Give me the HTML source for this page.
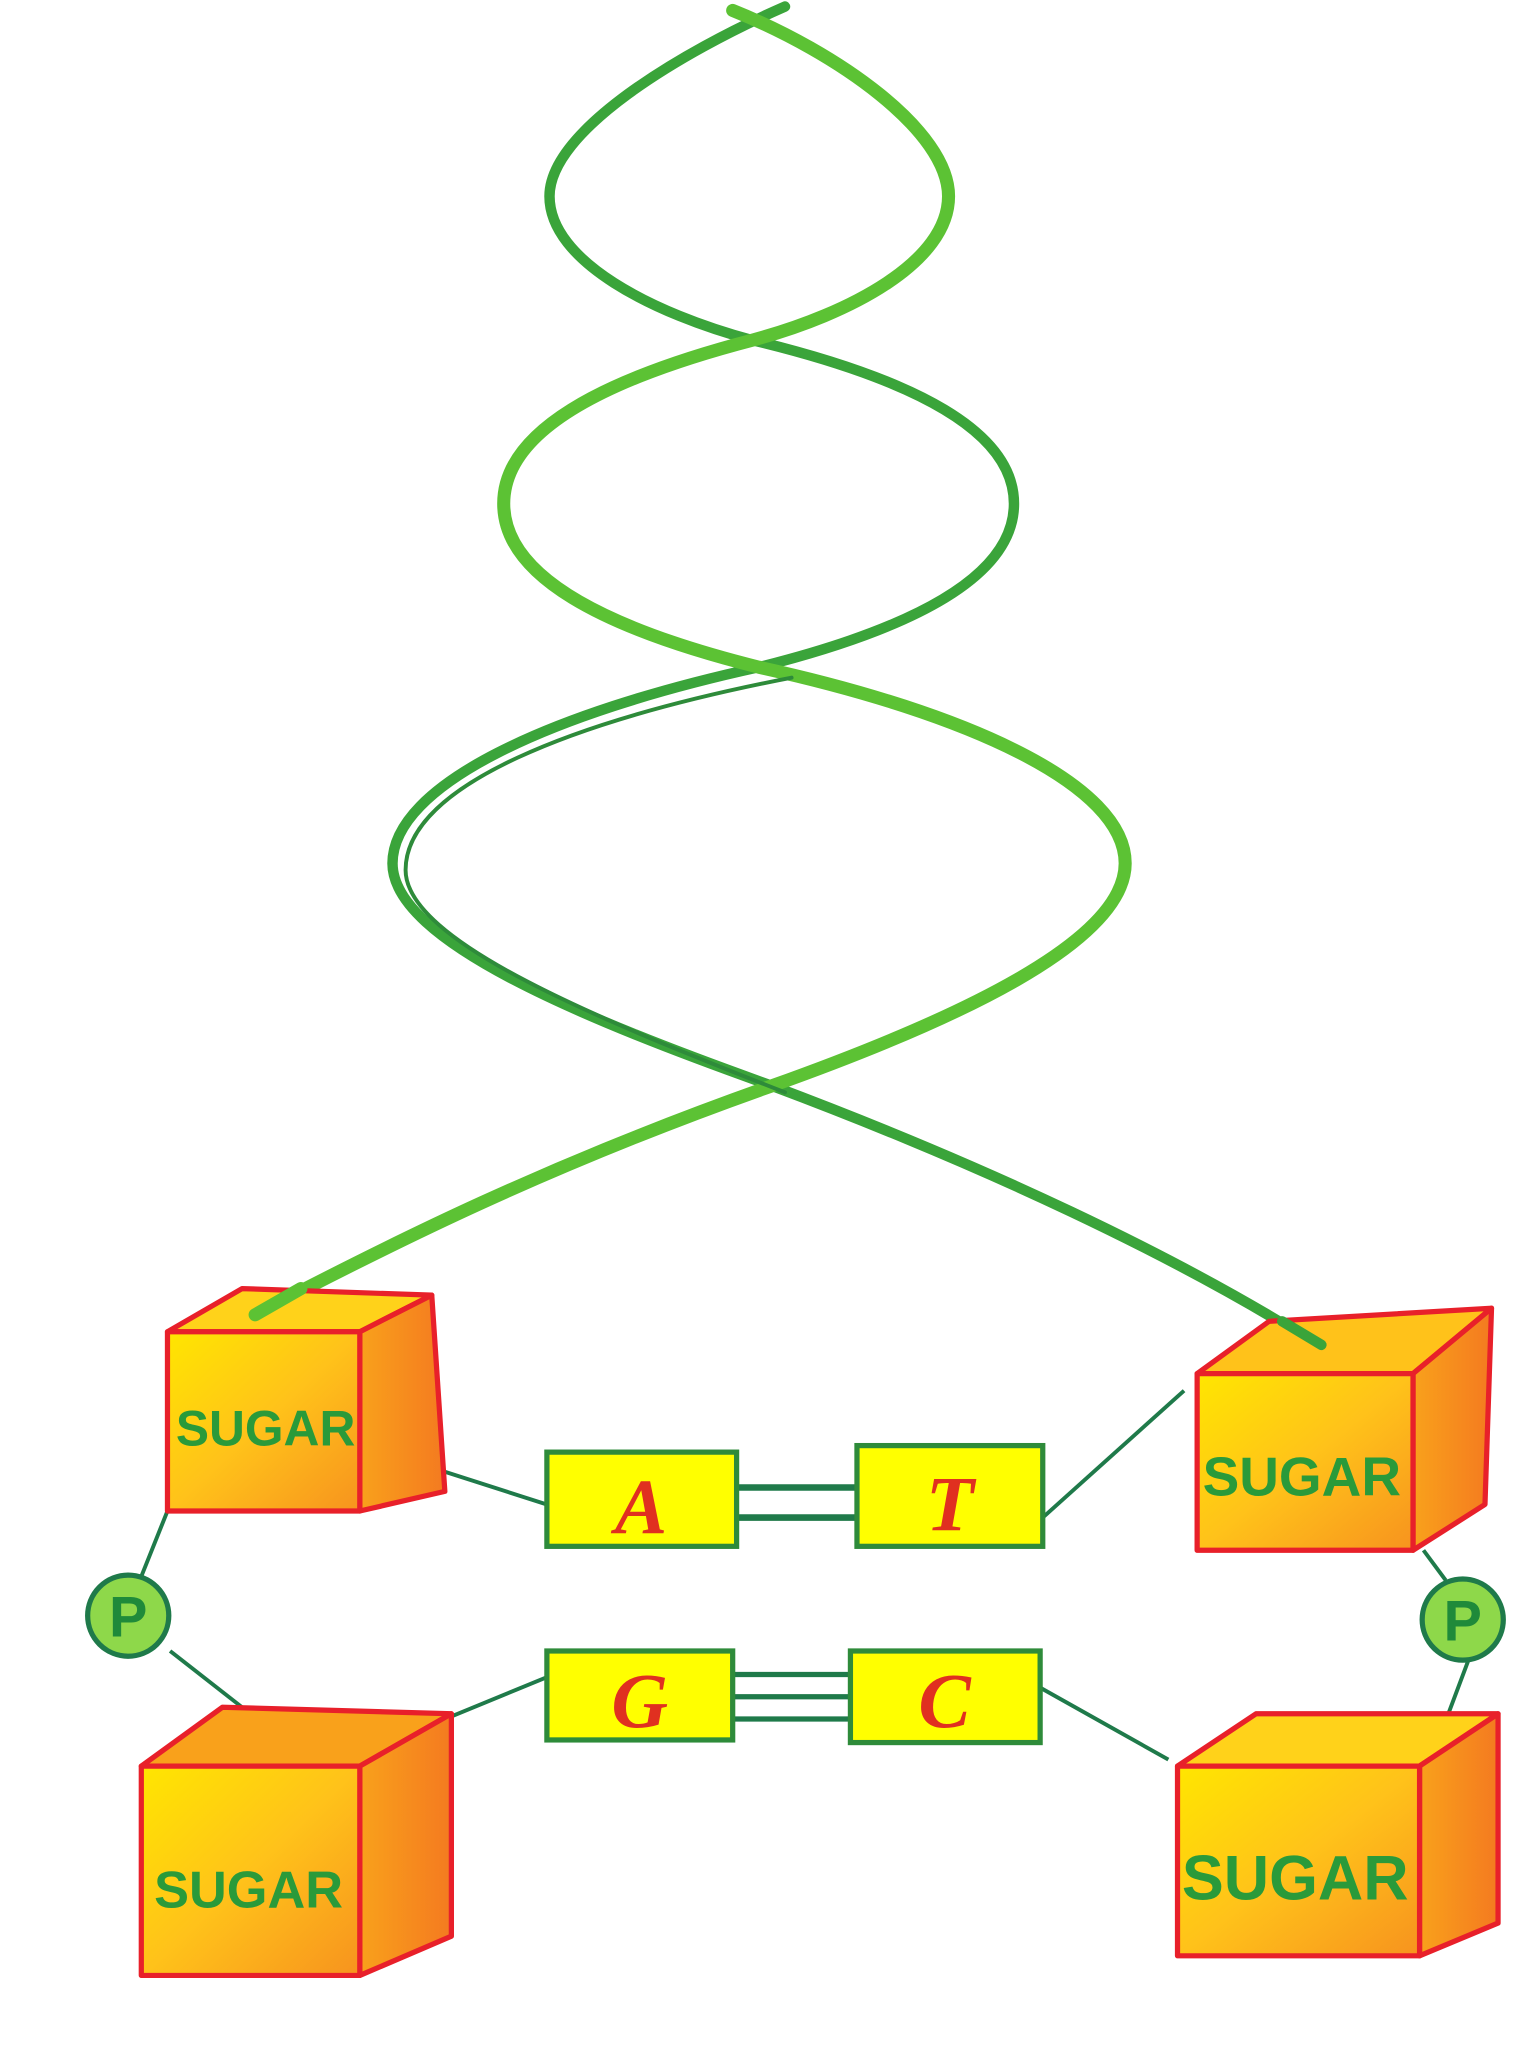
<!DOCTYPE html>
<html><head><style>html,body{margin:0;padding:0;background:#fff}svg{display:block}</style></head>
<body>
<svg width="1536" height="2050" viewBox="0 0 1174 1567" preserveAspectRatio="none" xmlns="http://www.w3.org/2000/svg">
<defs>
<linearGradient id="g" x1="0" y1="0" x2="1" y2="1"><stop offset="0" stop-color="#ffe600"/><stop offset="0.5" stop-color="#ffc21a"/><stop offset="1" stop-color="#f7931e"/></linearGradient>
<linearGradient id="s" x1="0" y1="0" x2="1" y2="0"><stop offset="0" stop-color="#f9a11b"/><stop offset="1" stop-color="#f47a20"/></linearGradient>
</defs>
<g fill="none" stroke-linecap="round">
<path d="M600 5 C520 40 420 100 420 150 C420 200 500 240 575 260 C700 290 775 330 775 385 C775 440 700 480 580 510 C420 545 300 600 300 660 C300 720 450 780 590 830 C750 890 900 960 1010 1030" stroke="#3aa43a" stroke-width="8"/>
<path d="M560 8 C640 40 725 100 725 150 C725 200 650 240 575 260 C460 290 385 330 385 385 C385 440 460 480 580 510 C740 545 860 600 860 660 C860 720 730 780 590 830 C420 890 300 950 195 1005" stroke="#5cc234" stroke-width="10"/>
<path d="M605 518 C440 550 310 600 310 665 C310 720 460 780 600 835" stroke="#2e8b3a" stroke-width="3"/>
</g>
<g stroke="#1f7a4a" stroke-width="3" fill="none">
<line x1="340" y1="1125" x2="418" y2="1150"/><line x1="797" y1="1160" x2="905" y2="1063"/>
<line x1="128" y1="1155" x2="108" y2="1205"/><line x1="130" y1="1262" x2="185" y2="1305"/>
<line x1="345" y1="1312" x2="418" y2="1282"/><line x1="795" y1="1290" x2="893" y2="1345"/>
<line x1="1088" y1="1185" x2="1105" y2="1208"/><line x1="1122" y1="1270" x2="1092" y2="1350"/>
<line x1="563" y1="1137" x2="655" y2="1137" stroke-width="5"/><line x1="563" y1="1160" x2="655" y2="1160" stroke-width="5"/>
<line x1="560" y1="1280" x2="650" y2="1280" stroke-width="4"/><line x1="560" y1="1297" x2="650" y2="1297" stroke-width="4"/><line x1="560" y1="1314" x2="650" y2="1314" stroke-width="4"/>
</g>
<g stroke="#e8202a" stroke-width="4" stroke-linejoin="round">
<polygon points="128,1018 185,985 330,990 275,1018" fill="#ffd21a"/>
<polygon points="275,1018 330,990 340,1140 275,1155" fill="url(#s)"/>
<rect x="128" y="1018" width="147" height="137" fill="url(#g)"/>
<polygon points="108,1350 170,1305 345,1310 275,1350" fill="#f9a11b"/>
<polygon points="275,1350 345,1310 345,1480 275,1510" fill="url(#s)"/>
<rect x="108" y="1350" width="167" height="160" fill="url(#g)"/>
<polygon points="915,1050 970,1010 1140,1000 1080,1050" fill="#ffc21a"/>
<polygon points="1080,1050 1140,1000 1135,1150 1080,1185" fill="url(#s)"/>
<rect x="915" y="1050" width="165" height="135" fill="url(#g)"/>
<polygon points="900,1350 960,1310 1145,1310 1085,1350" fill="#ffd21a"/>
<polygon points="1085,1350 1145,1310 1145,1470 1085,1495" fill="url(#s)"/>
<rect x="900" y="1350" width="185" height="145" fill="url(#g)"/>
</g>
<path d="M195 1005 L230 985" stroke="#5cc234" stroke-width="10" stroke-linecap="round"/>
<path d="M980 1010 L1010 1028" stroke="#3aa43a" stroke-width="8" stroke-linecap="round"/>
<g stroke="#2e8b3a" stroke-width="4" fill="#ffff00">
<rect x="418" y="1110" width="145" height="72"/><rect x="655" y="1105" width="142" height="77"/>
<rect x="418" y="1262" width="142" height="68"/><rect x="650" y="1262" width="145" height="70"/>
</g>
<g stroke="#1f7a4a" stroke-width="4" fill="#8ed84a">
<circle cx="98" cy="1235" r="31"/><circle cx="1118" cy="1238" r="31"/>
</g>
<g font-family="Liberation Serif, serif" font-style="italic" font-weight="bold" fill="#e03020" font-size="60" text-anchor="middle">
<text x="490" y="1172">A</text><text x="726" y="1170">T</text><text x="489" y="1320">G</text><text x="722" y="1320">C</text>
</g>
<g font-family="Liberation Sans, sans-serif" font-weight="bold" fill="#1f8a3a" font-size="44" text-anchor="middle">
<text x="98" y="1251">P</text><text x="1118" y="1254">P</text>
</g>
<g font-family="Liberation Sans, sans-serif" fill="#2a9a3a" text-anchor="middle" font-weight="bold">
<text x="203" y="1105" font-size="38">SUGAR</text>
<text x="190" y="1458" font-size="40">SUGAR</text>
<text x="995" y="1143" font-size="42">SUGAR</text>
<text x="990" y="1452" font-size="48">SUGAR</text>
</g>
</svg>
</body></html>
